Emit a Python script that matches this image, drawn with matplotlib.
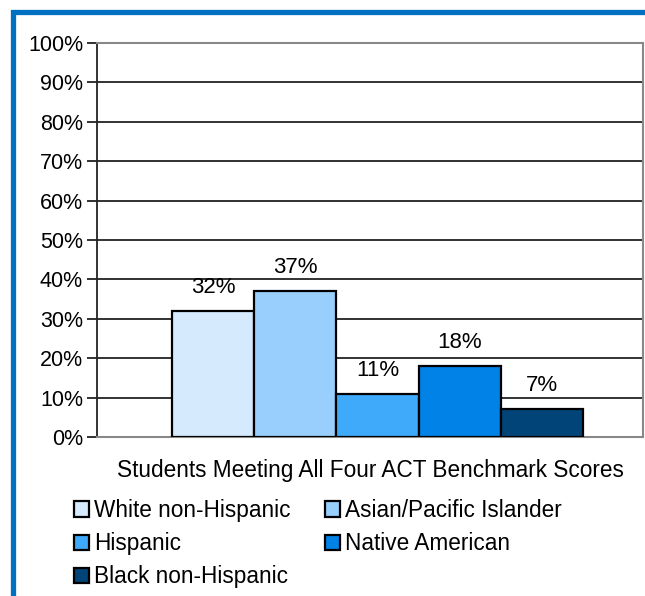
import numpy as np
import matplotlib
matplotlib.use('Agg')
from matplotlib import pyplot as plt
from matplotlib.patches import Rectangle

plt.rcParams['font.family'] = ['Liberation Sans', 'DejaVu Sans']

# Data
groups = ['White non-Hispanic', 'Asian/Pacific Islander', 'Hispanic',
          'Native American', 'Black non-Hispanic']
values = [32, 37, 11, 18, 7]
colors = ['#D5EAFD', '#99CFFC', '#40AAFA', '#0082E6', '#004478']
category = 'Students Meeting All Four ACT Benchmark Scores'
yticks = list(range(0, 101, 10))

W, H = 645, 596
fig = plt.figure(figsize=(W / 100, H / 100), dpi=100)

# blue frame around the chart
fig.patches.append(Rectangle((12.5 / W, -0.1), 1.2, 1.1 - 11.5 / H,
                             transform=fig.transFigure, fill=False,
                             edgecolor='#0070C0', linewidth=3.8))

ax = fig.add_axes([97 / W, 159 / H, 546 / W, 394 / H])

for i, (g, v, c) in enumerate(zip(groups, values, colors)):
    ax.bar(i, v, width=1.0, color=c, edgecolor='black', linewidth=1.6,
           label=g, zorder=3)
    ax.annotate(f'{v}%', (i, v), xytext=(0, 17), textcoords='offset points',
                ha='center', va='center', fontsize=16)

ax.set_xlim(-1.41, 5.23)
ax.set_ylim(0, 100)
ax.set_yticks(yticks)
ax.set_yticklabels([f'{t}%' for t in yticks], fontsize=15.5)
ax.yaxis.grid(True, color='#222222', linewidth=1.3, zorder=0)
ax.set_xticks([])
ax.tick_params(axis='y', length=7, width=1.3, color='#222222', pad=3)

for s in ['top', 'right', 'bottom']:
    ax.spines[s].set_color('#888888')
    ax.spines[s].set_linewidth(1.5)
ax.spines['left'].set_color('#222222')
ax.spines['left'].set_linewidth(1.3)

ax.set_xlabel(category, fontsize=16.3, labelpad=16)

# legend filled row by row, like the original
handles, labels = ax.get_legend_handles_labels()
order = [0, 2, 4, 1, 3]
leg = fig.legend([handles[k] for k in order], [labels[k] for k in order],
                 ncol=2, loc='upper left',
                 bbox_to_anchor=(74 / W, 1 - 499 / H), frameon=False,
                 fontsize=16.3, handlelength=0.65, handleheight=0.65,
                 handletextpad=0.25, columnspacing=1.5, labelspacing=0.45,
                 borderaxespad=0, borderpad=0)

fig.savefig('out.png', dpi=100)
